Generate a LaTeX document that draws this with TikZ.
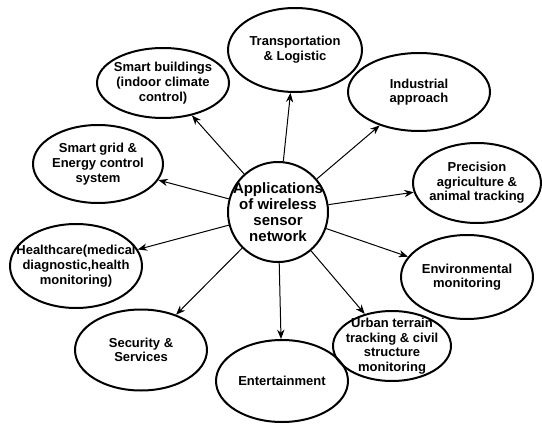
\documentclass[tikz,border=0pt]{standalone}
\usepackage{fontspec}
\setmainfont{Liberation Sans}
\usetikzlibrary{shapes.geometric,arrows.meta}
\tikzset{
  app/.style={ellipse,draw,line width=1.5pt,inner sep=-1cm,align=center,
    font=\bfseries\fontsize{9.75}{11}\selectfont},
  hub/.style={circle,draw,line width=1.5pt,inner sep=-8pt,minimum size=75pt,align=center,
    font=\bfseries\fontsize{11.25}{12}\selectfont}
}
\begin{document}
\begin{tikzpicture}[x=0.75pt,y=-0.75pt,>={Stealth[length=7pt,width=5.5pt]}]
      \useasboundingbox (0,0) rectangle (542,424);
      \draw
        (278,212) node[hub] (0){Applications\\of wireless\\sensor\\network}
        (163,83) node[app,minimum width=99pt,minimum height=52.5pt] (1){Smart buildings\\(indoor climate\\control)}
        (295,50) node[app,minimum width=100.5pt,minimum height=63pt] (2){Transportation\\\& Logistic}
        (419,92) node[app,minimum width=106.5pt,minimum height=58.5pt] (3){Industrial\\approach}
        (477,183) node[app,minimum width=96pt,minimum height=60pt] (4){Precision\\agriculture \&\\animal tracking}
        (467,277) node[app,minimum width=99pt,minimum height=63pt] (5){Environmental\\monitoring}
        (392,346) node[app,minimum width=88.5pt,minimum height=52.5pt] (6){Urban terrain\\tracking \& civil\\structure\\monitoring}
        (282,381) node[app,minimum width=99pt,minimum height=61.5pt] (7){Entertainment}
        (141,350) node[app,minimum width=99pt,minimum height=60.75pt] (8){Security \&\\Services}
        (76,266) node[app,minimum width=99pt,minimum height=63pt] (9){Healthcare(medical\\diagnostic,health\\monitoring)}
        (98,164) node[app,minimum width=97.5pt,minimum height=58.5pt] (10){Smart grid \&\\Energy control\\system};
      \begin{scope}[->,line width=0.75pt]
        \draw (0) to (1);
        \draw (0) to (2);
        \draw (0) to (3);
        \draw (0) to (4);
        \draw (0) to (5);
        \draw (0) to (6);
        \draw (0) to (7);
        \draw (0) to (8);
        \draw (0) to (9);
        \draw (0) to (10);
      \end{scope}
    \end{tikzpicture}
\end{document}
